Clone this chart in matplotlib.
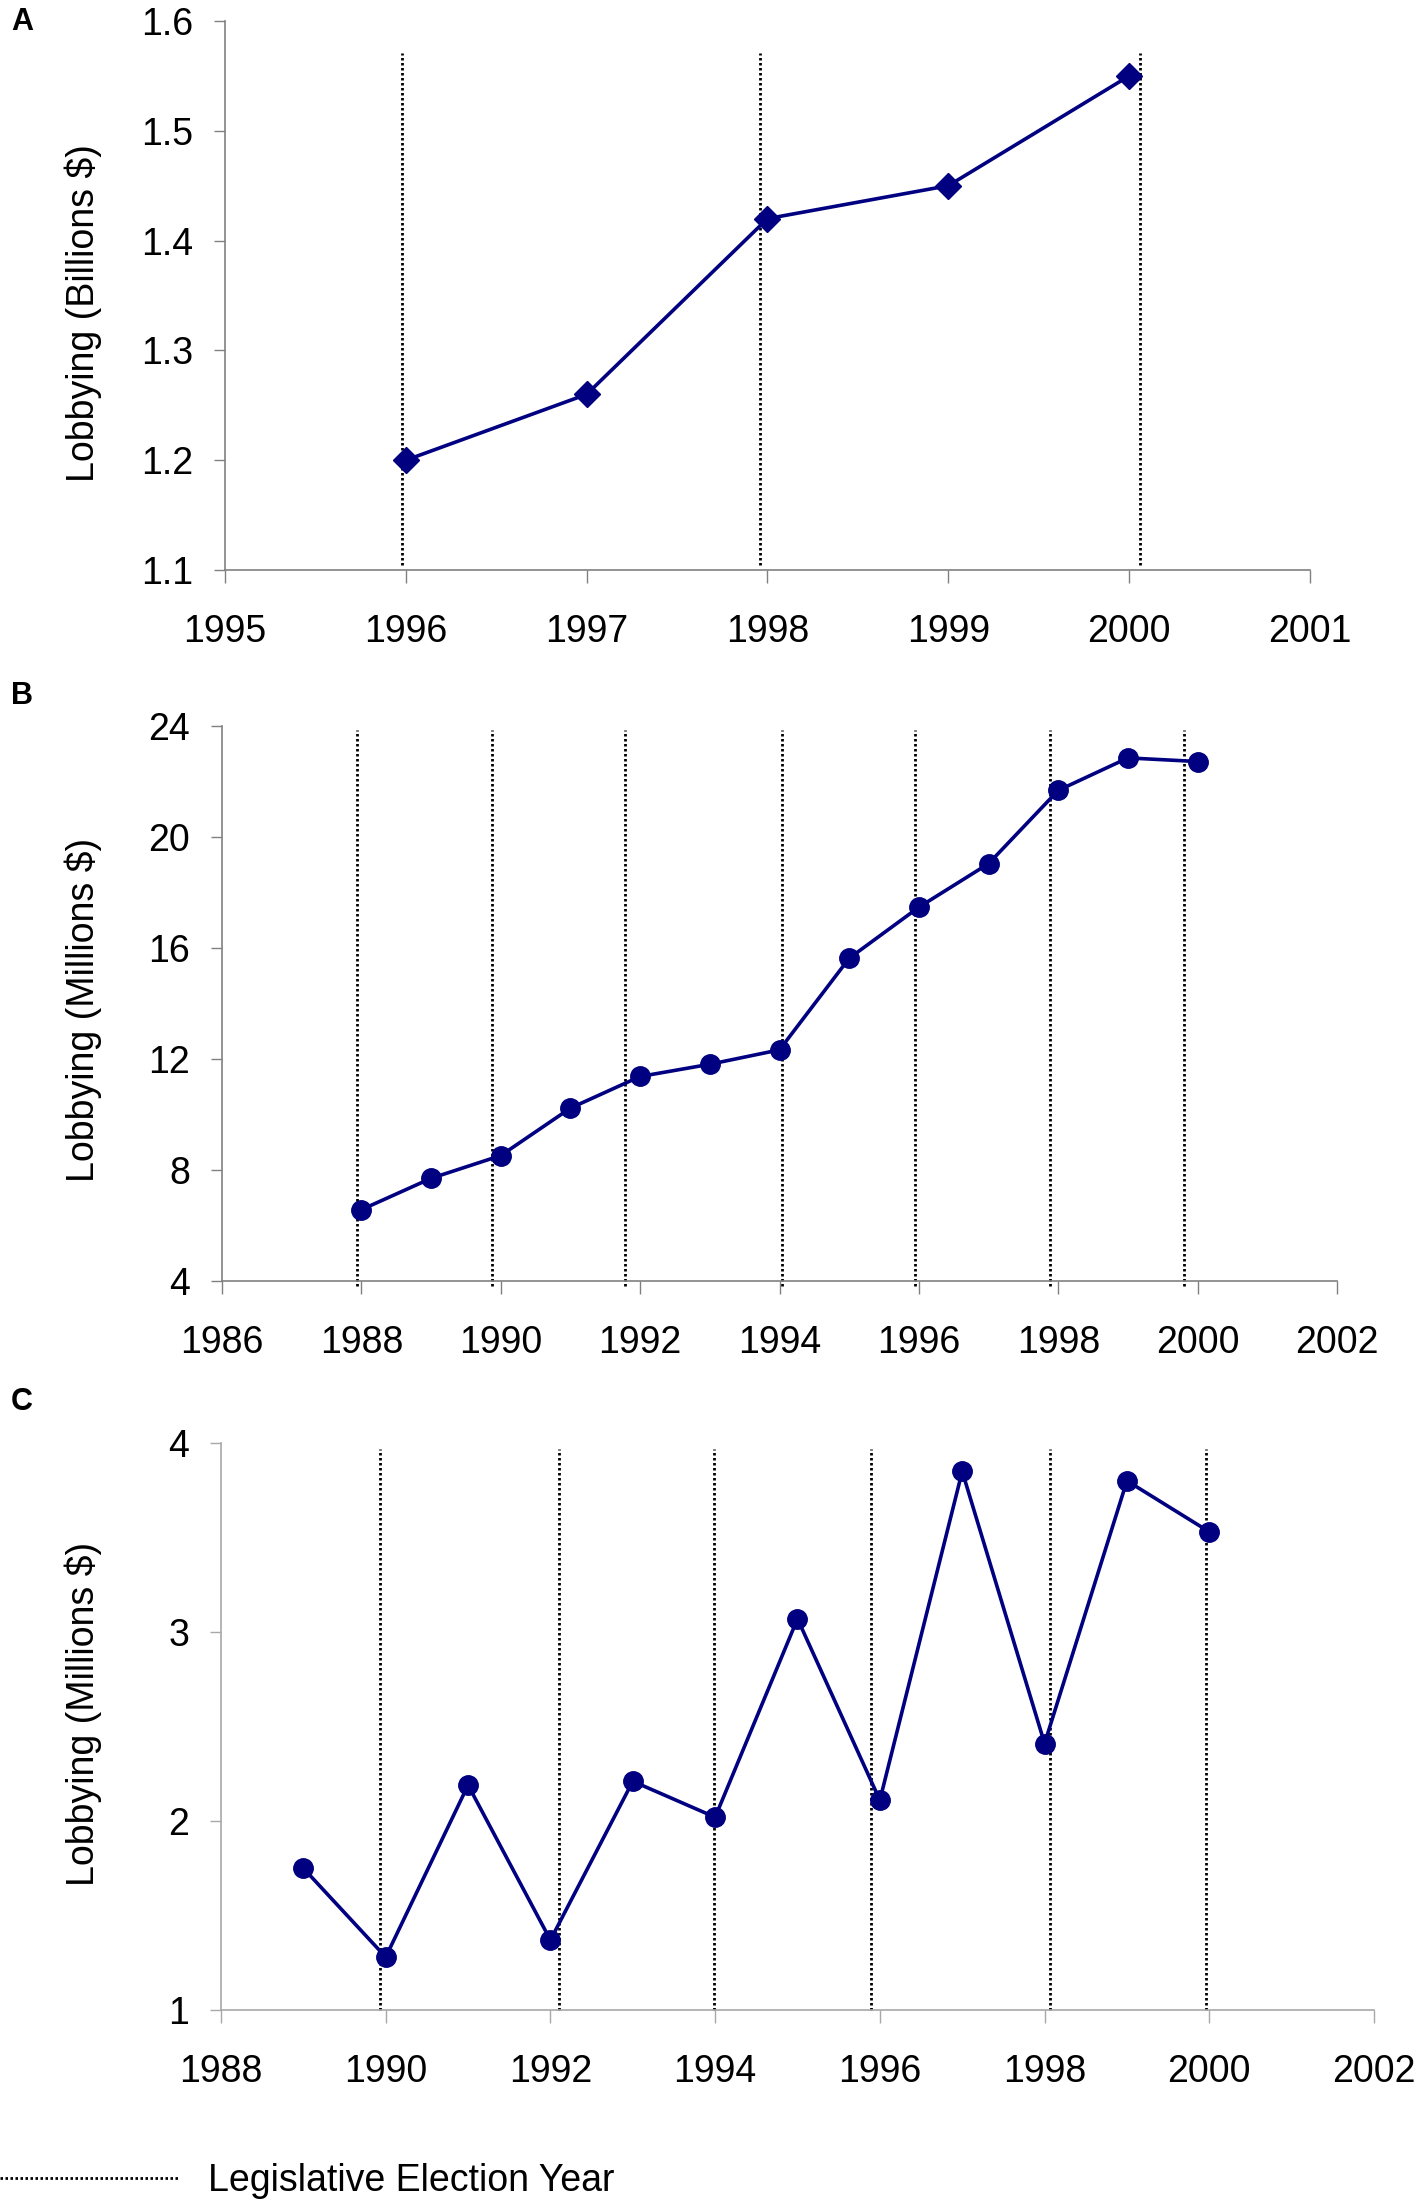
import matplotlib
matplotlib.use('Agg')
import numpy as np
from matplotlib import pyplot as plt

plt.rcParams['font.family'] = ['Liberation Sans', 'DejaVu Sans']

# panel A: total lobbying, billions
years_a = [1996, 1997, 1998, 1999, 2000]
lobby_a = [1.20, 1.26, 1.42, 1.45, 1.55]
elect_a = [1995.98, 1997.96, 2000.06]

# panel B: millions
years_b = list(range(1988, 2001))
lobby_b = [6.57, 7.70, 8.52, 10.23, 11.37, 11.81, 12.33, 15.63, 17.47, 19.04, 21.68, 22.85, 22.72]
elect_b = [1987.94, 1989.87, 1991.78, 1994.03, 1995.95, 1997.88, 1999.8]

# panel C: millions
years_c = list(range(1989, 2001))
lobby_c = [1.75, 1.28, 2.19, 1.37, 2.21, 2.02, 3.07, 2.11, 3.85, 2.41, 3.80, 3.53]
elect_c = [1989.93, 1992.10, 1993.99, 1995.89, 1998.07, 1999.96]

NAVY = '#000080'
W, H = 1421, 2204

fig = plt.figure(figsize=(W / 100, H / 100), dpi=100)


def px_axes(l, r, t, b):
    return fig.add_axes([l / W, 1 - b / H, (r - l) / W, (b - t) / H])


def style(ax, spine_col):
    for s in ['top', 'right']:
        ax.spines[s].set_visible(False)
    for s in ['left', 'bottom']:
        ax.spines[s].set_color(spine_col)
        ax.spines[s].set_linewidth(1.2)
    ax.tick_params(axis='x', direction='out', length=9.5, width=1, color=spine_col,
                   labelsize=27, pad=22)
    ax.tick_params(axis='y', direction='out', length=8, width=1, color=spine_col,
                   labelsize=27, pad=15)


dot = dict(colors='black', linestyles=(0, (0.9, 0.9)), linewidth=2.0, clip_on=False, zorder=1)

# ---- A
ax_a = px_axes(225, 1310, 21, 570)
ax_a.vlines(elect_a, 1.105, 1.571, **dot)
ax_a.plot(years_a, lobby_a, color=NAVY, lw=2.6, marker='D', ms=13, zorder=3, clip_on=False)
ax_a.set_xlim(1995, 2001)
ax_a.set_ylim(1.1, 1.6)
ax_a.set_xticks(range(1995, 2002))
ax_a.set_yticks(np.arange(1.1, 1.61, 0.1))
ax_a.set_yticklabels(['%.1f' % v for v in np.arange(1.1, 1.61, 0.1)])
style(ax_a, '#808080')

# ---- B
ax_b = px_axes(222, 1337, 726, 1281)
ax_b.vlines(elect_b, 3.82, 23.87, **dot)
ax_b.plot(years_b, lobby_b, color=NAVY, lw=2.6, marker='o', ms=14, zorder=3, clip_on=False)
ax_b.set_xlim(1986, 2002)
ax_b.set_ylim(4, 24)
ax_b.set_xticks(range(1986, 2003, 2))
ax_b.set_yticks(range(4, 25, 4))
style(ax_b, '#808080')

# ---- C
ax_c = px_axes(221, 1374, 1443, 2010)
leg_lines = ax_c.vlines(elect_c, 1.0, 3.97, label='Legislative Election Year', **dot)
ax_c.plot(years_c, lobby_c, color=NAVY, lw=2.6, marker='o', ms=14, zorder=3, clip_on=False)
ax_c.set_xlim(1988, 2002)
ax_c.set_ylim(1, 4)
ax_c.set_xticks(range(1988, 2003, 2))
ax_c.set_yticks(range(1, 5))
style(ax_c, '#a8a8a8')

# y labels and panel letters
ylab = [('Lobbying (Billions $)', 313), ('Lobbying (Millions $)', 1010), ('Lobbying (Millions $)', 1714)]
for txt, yc in ylab:
    fig.text(83 / W, 1 - yc / H, txt, rotation=90, ha='center', va='center', fontsize=27)

for letter, yc in [('A', 22), ('B', 696), ('C', 1402)]:
    fig.text(22 / W, 1 - yc / H, letter, ha='center', va='center', fontsize=22, fontweight='bold')

fig.legend(handles=[leg_lines], loc='center left', bbox_to_anchor=(0, 23 / H),
           frameon=False, fontsize=27, handlelength=4.75, handletextpad=0.8,
           borderpad=0, borderaxespad=0)

fig.savefig('out.png', dpi=100)
